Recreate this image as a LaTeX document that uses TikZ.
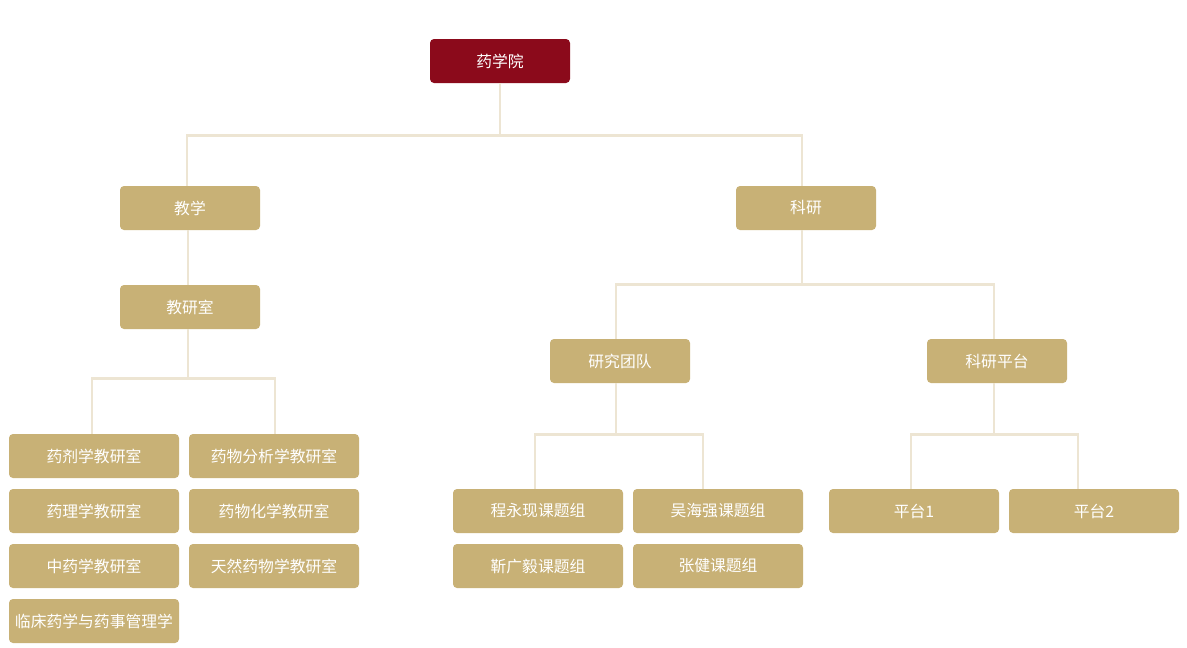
\documentclass[tikz,border=0pt]{standalone}
\usepackage{fontspec}
\setmainfont{Noto Sans CJK SC}
\definecolor{deepred}{HTML}{8B0A1B}
\definecolor{gold}{HTML}{C8B176}
\definecolor{linec}{HTML}{EDE5D3}
\begin{document}
\begin{tikzpicture}[x=1pt,y=-1pt,
  box/.style={rectangle,rounded corners=4pt,fill=gold,text=white,minimum height=44pt,inner sep=0pt,font=\fontsize{15.8pt}{17pt}\selectfont},
  wbox/.style={box,minimum width=140pt},
  cbox/.style={box,minimum width=170pt},
  rootbox/.style={wbox,fill=deepred},
  conn/.style={draw=linec,line width=2.8pt}]
\useasboundingbox[fill=white] (0,0) rectangle (1187,648);
% nodes
\node[rootbox] (root) at (500,61) {药学院};
\node[wbox] (jx) at (190,208) {教学};
\node[wbox] (ky) at (806,208) {科研};
\node[wbox] (jys) at (190,307) {教研室};
\node[wbox] (yjtd) at (620,361) {研究团队};
\node[wbox] (kypt) at (997,361) {科研平台};
\node[cbox] (a1) at (94,456) {药剂学教研室};
\node[cbox] (a2) at (94,511) {药理学教研室};
\node[cbox] (a3) at (94,566) {中药学教研室};
\node[cbox] (a4) at (94,621) {临床药学与药事管理学};
\node[cbox] (b1) at (274,456) {药物分析学教研室};
\node[cbox] (b2) at (274,511) {药物化学教研室};
\node[cbox] (b3) at (274,566) {天然药物学教研室};
\node[cbox] (c1) at (538,511) {程永现课题组};
\node[cbox] (c2) at (538,566) {靳广毅课题组};
\node[cbox] (d1) at (718,511) {吴海强课题组};
\node[cbox] (d2) at (718,566) {张健课题组};
\node[cbox] (p1) at (914,511) {平台1};
\node[cbox] (p2) at (1094,511) {平台2};
% connectors
\draw[conn] (root.south) -- ++(0,52) -| ([xshift=-3pt]jx.north);
\draw[conn] (root.south) -- ++(0,52) -| ([xshift=-4pt]ky.north);
\draw[conn] ([xshift=-2pt]jx.south) -- ([xshift=-2pt]jys.north);
\draw[conn] ([xshift=-2pt]jys.south) -- ++(0,49) -| ([xshift=-2pt]a1.north);
\draw[conn] ([xshift=-2pt]jys.south) -- ++(0,49) -| ([xshift=1pt]b1.north);
\draw[conn] ([xshift=-4pt]ky.south) -- ++(0,54) -| ([xshift=-4pt]yjtd.north);
\draw[conn] ([xshift=-4pt]ky.south) -- ++(0,54) -| ([xshift=-3pt]kypt.north);
\draw[conn] ([xshift=-4pt]yjtd.south) -- ++(0,51) -| ([xshift=-3pt]c1.north);
\draw[conn] ([xshift=-4pt]yjtd.south) -- ++(0,51) -| ([xshift=-15pt]d1.north);
\draw[conn] ([xshift=-3pt]kypt.south) -- ++(0,51) -| ([xshift=-3pt]p1.north);
\draw[conn] ([xshift=-3pt]kypt.south) -- ++(0,51) -| ([xshift=-16pt]p2.north);
\end{tikzpicture}
\end{document}
